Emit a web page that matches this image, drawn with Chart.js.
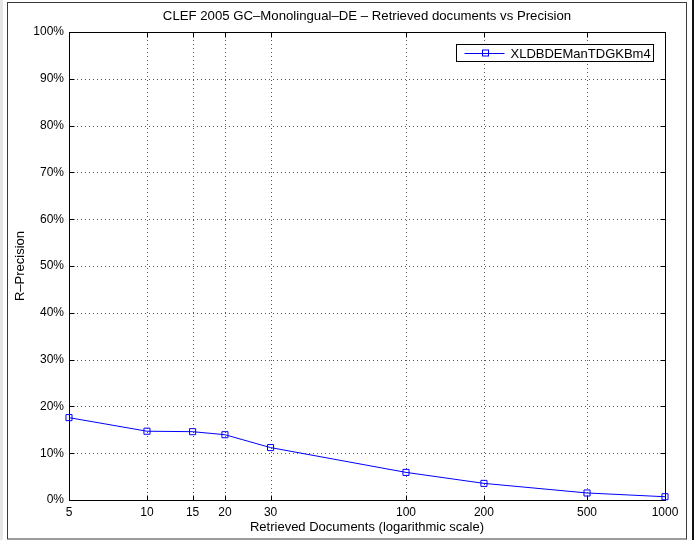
<!DOCTYPE html>
<html>
<head>
<meta charset="utf-8">
<script src="https://cdn.jsdelivr.net/npm/chart.js@4/dist/chart.umd.min.js"></script>
<style>
  html, body { margin: 0; padding: 0; background: #ffffff; }
  #wrap { width: 696px; height: 540px; position: relative; }
</style>
</head>
<body>
<div id="wrap"><canvas id="c" width="696" height="540"></canvas></div>
<script>
// ---- Data ----
const retrievedDocs = [5, 10, 15, 20, 30, 100, 200, 500, 1000];
const rPrecision = [17.6, 14.7, 14.6, 13.95, 11.2, 5.9, 3.55, 1.5, 0.7];
const xTickValues = [5, 10, 15, 20, 30, 100, 200, 500, 1000];
const yTickValues = [0, 10, 20, 30, 40, 50, 60, 70, 80, 90, 100];
const seriesName = 'XLDBDEManTDGKBm4';
const chartTitle = 'CLEF 2005 GC\u2013Monolingual\u2013DE \u2013 Retrieved documents vs Precision';
const xAxisTitle = 'Retrieved Documents (logarithmic scale)';
const yAxisTitle = 'R\u2013Precision';

const FONT = '"Liberation Sans", Arial, Helvetica, sans-serif';
const BLUE = '#0000ff';

const decor = {
  id: 'decor',
  beforeDraw(chart) {
    const ctx = chart.ctx;
    ctx.save();
    ctx.fillStyle = '#ffffff';
    ctx.fillRect(0, 0, chart.width, chart.height);
    // scan-like figure frame
    ctx.fillStyle = '#e6e6e6';
    ctx.fillRect(0, 0, 3, chart.height);
    ctx.strokeStyle = '#3a3a3a';
    ctx.lineWidth = 1;
    ctx.strokeRect(7.5, 2.5, 679, 536.5);
    ctx.fillStyle = '#111111';
    ctx.fillRect(692, 0, 2, chart.height);
    // title, centred over the plot area
    const a = chart.chartArea;
    ctx.fillStyle = '#000000';
    ctx.font = '13.2px ' + FONT;
    ctx.textAlign = 'center';
    ctx.textBaseline = 'middle';
    ctx.fillText(chartTitle, (a.left + a.right) / 2, 16.5);
    ctx.restore();
  },
  beforeDatasetsDraw(chart) {
    const {ctx, chartArea: a, scales: {x, y}} = chart;
    ctx.save();
    // dotted grid
    ctx.strokeStyle = '#555555';
    ctx.lineWidth = 1;
    ctx.setLineDash([1, 3]);
    xTickValues.slice(1, -1).forEach(v => {
      const px = Math.round(x.getPixelForValue(v)) + 0.5;
      ctx.beginPath(); ctx.moveTo(px, a.top); ctx.lineTo(px, a.bottom); ctx.stroke();
    });
    yTickValues.slice(1, -1).forEach(v => {
      const py = Math.round(y.getPixelForValue(v)) + 0.5;
      ctx.beginPath(); ctx.moveTo(a.left, py); ctx.lineTo(a.right, py); ctx.stroke();
    });
    ctx.setLineDash([]);
    // axes box
    ctx.strokeStyle = '#000000';
    const L = Math.round(a.left) + 0.5, R = Math.round(a.right) + 0.5;
    const T = Math.round(a.top) + 0.5, B = Math.round(a.bottom) + 0.5;
    ctx.strokeRect(L, T, R - L, B - T);
    // inward ticks on all sides
    const tl = 5;
    ctx.beginPath();
    xTickValues.forEach(v => {
      const px = Math.round(x.getPixelForValue(v)) + 0.5;
      ctx.moveTo(px, B); ctx.lineTo(px, B - tl);
      ctx.moveTo(px, T); ctx.lineTo(px, T + tl);
    });
    yTickValues.forEach(v => {
      const py = Math.round(y.getPixelForValue(v)) + 0.5;
      ctx.moveTo(L, py); ctx.lineTo(L + tl, py);
      ctx.moveTo(R, py); ctx.lineTo(R - tl, py);
    });
    ctx.stroke();
    ctx.restore();
  },
  afterDraw(chart) {
    const {ctx, chartArea: a} = chart;
    const ds = chart.data.datasets[0];
    ctx.save();
    ctx.font = '13px ' + FONT;
    const tw = ctx.measureText(ds.label).width;
    const boxRight = Math.round(a.right - 12.5) + 0.5;
    const boxTop = Math.round(a.top + 12) + 0.5;
    const boxH = 17;
    const boxLeft = Math.round(boxRight - (tw + 3 + 46 + 8)) + 0.5;
    ctx.fillStyle = '#ffffff';
    ctx.fillRect(boxLeft, boxTop, boxRight - boxLeft, boxH);
    ctx.strokeStyle = '#000000';
    ctx.lineWidth = 1;
    ctx.strokeRect(boxLeft, boxTop, boxRight - boxLeft, boxH);
    const cy = Math.round(boxTop + boxH / 2) + 0.5;
    const lx0 = boxLeft + 8;
    ctx.strokeStyle = ds.borderColor;
    ctx.beginPath(); ctx.moveTo(lx0, cy); ctx.lineTo(lx0 + 40, cy); ctx.stroke();
    const mx = Math.round(lx0 + 20);
    ctx.strokeRect(mx - 3 + 0.5, cy - 3.5, 6, 6);
    ctx.fillStyle = '#000000';
    ctx.textBaseline = 'middle';
    ctx.textAlign = 'left';
    ctx.fillText(ds.label, lx0 + 46, cy + 0.5);
    ctx.restore();
  }
};

new Chart(document.getElementById('c'), {
  type: 'line',
  data: {
    datasets: [{
      label: seriesName,
      data: retrievedDocs.map((d, i) => ({x: d, y: rPrecision[i]})),
      borderColor: BLUE,
      backgroundColor: 'rgba(0,0,0,0)',
      borderWidth: 1,
      pointStyle: 'rect',
      pointRadius: 4.3,
      pointBorderWidth: 1,
      pointBorderColor: BLUE,
      pointBackgroundColor: 'rgba(0,0,0,0)',
      tension: 0,
      clip: false
    }]
  },
  plugins: [decor],
  options: {
    responsive: false,
    animation: false,
    devicePixelRatio: 1,
    layout: { padding: { left: 0, right: 31, top: 32, bottom: 0 } },
    plugins: {
      legend: { display: false },
      tooltip: { enabled: false },
      title: { display: false }
    },
    scales: {
      x: {
        type: 'logarithmic',
        position: 'bottom',
        min: 5,
        max: 1000,
        afterBuildTicks(scale) { scale.ticks = xTickValues.map(v => ({value: v})); },
        afterFit(scale) { scale.height = 40; },
        grid: { display: false, drawTicks: false },
        border: { display: false },
        ticks: {
          autoSkip: false,
          maxRotation: 0,
          minRotation: 0,
          padding: 5.5,
          color: '#000000',
          font: { family: FONT, size: 12 },
          callback: (v) => String(v)
        },
        title: {
          display: true,
          text: xAxisTitle,
          color: '#000000',
          font: { family: FONT, size: 13 },
          padding: { top: 0, bottom: 4.5 }
        }
      },
      y: {
        type: 'linear',
        min: 0,
        max: 100,
        afterBuildTicks(scale) { scale.ticks = yTickValues.map(v => ({value: v})); },
        afterFit(scale) { scale.width = 69; },
        grid: { display: false, drawTicks: false },
        border: { display: false },
        ticks: {
          padding: 5,
          color: '#000000',
          font: { family: FONT, size: 12 },
          callback: (v) => v + '%'
        },
        title: {
          display: true,
          text: yAxisTitle,
          color: '#000000',
          font: { family: FONT, size: 13 },
          padding: { top: 13, bottom: 0 }
        }
      }
    }
  }
});
</script>
</body>
</html>
